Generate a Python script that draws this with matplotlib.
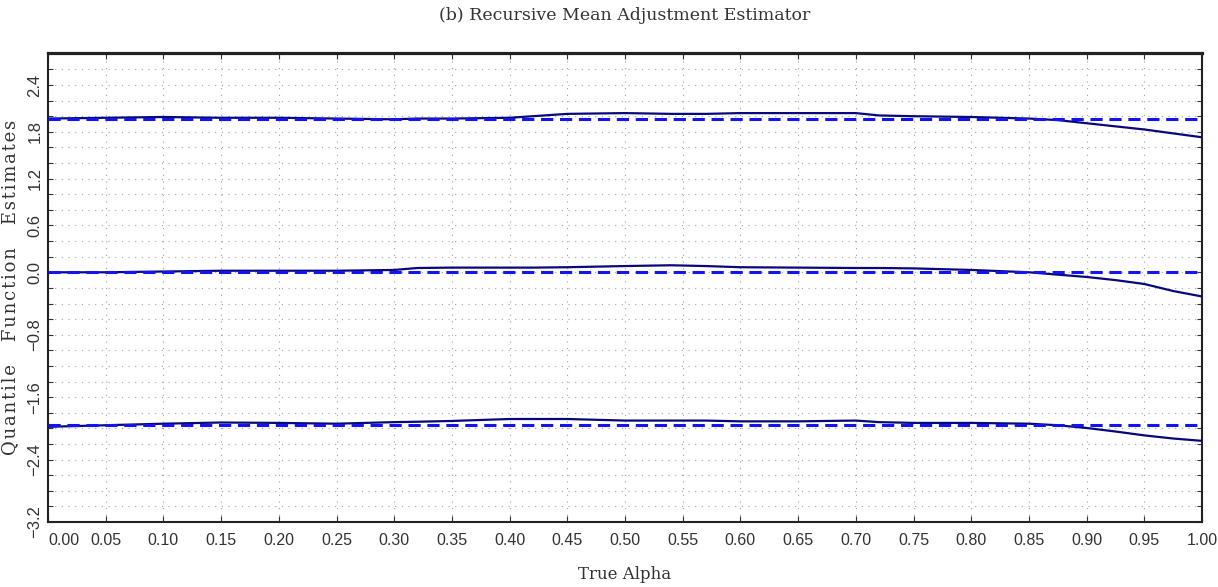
import numpy as np
import matplotlib
matplotlib.use("Agg")
import matplotlib.pyplot as plt
from matplotlib.ticker import FixedLocator, FixedFormatter

alpha = [0.0, 0.05, 0.1, 0.15, 0.2, 0.25, 0.3, 0.32, 0.35, 0.4, 0.42, 0.45, 0.5,
         0.54, 0.57, 0.6, 0.65, 0.7, 0.72, 0.75, 0.8, 0.85, 0.875, 0.9, 0.925,
         0.95, 0.975, 1.0]
upper_est = [1.97, 1.98, 1.99, 1.98, 1.98, 1.97, 1.96, 1.97, 1.97, 1.98, 2.0,
             2.03, 2.04, 2.03, 2.03, 2.04, 2.04, 2.04, 2.01, 2.0, 1.99, 1.97,
             1.95, 1.91, 1.87, 1.83, 1.78, 1.73]
median_est = [0.0, 0.0, 0.01, 0.02, 0.02, 0.02, 0.03, 0.055, 0.06, 0.06, 0.06,
              0.065, 0.08, 0.09, 0.08, 0.065, 0.06, 0.055, 0.055, 0.05, 0.03,
              0.0, -0.03, -0.06, -0.1, -0.15, -0.24, -0.31]
lower_est = [-1.98, -1.96, -1.94, -1.925, -1.93, -1.94, -1.92, -1.915, -1.905,
             -1.88, -1.88, -1.88, -1.9, -1.9, -1.9, -1.91, -1.91, -1.9, -1.92,
             -1.93, -1.93, -1.94, -1.96, -1.995, -2.04, -2.09, -2.13, -2.16]
true_q = [1.96, 0.0, -1.96]

ytick_vals = [2.4, 1.8, 1.2, 0.6, 0.0, -0.8, -1.6, -2.4, -3.2]
ytick_text = ["2.4", "1.8", "1.2", "0.6", "0.0", "\u22120.8", "\u22121.6", "\u22122.4", "\u22123.2"]
xtick_vals = [round(0.05 * i, 2) for i in range(21)]

fig = plt.figure(figsize=(12.18, 5.87), dpi=100)
ax = fig.add_axes([0.0394, 0.1107, 0.9475, 0.799])

navy = "#08087a"
blue = "#1414f0"

for est in (upper_est, median_est, lower_est):
    ax.plot(alpha, est, color=navy, lw=1.6, zorder=3)
for q in true_q:
    ax.plot([alpha[0], alpha[-1]], [q, q], color=blue, lw=2.2,
            dashes=(4, 2.2), zorder=4)

ax.set_xlim(0, 1)
ax.set_ylim(-3.2, 2.81)

# ticks: every 0.2 on y, labels only at a few
yminor = [round(-3.2 + 0.2 * i, 1) for i in range(30)]
ax.yaxis.set_major_locator(FixedLocator(yminor))
ylabels = []
for v in yminor:
    lab = ""
    for tv, tt in zip(ytick_vals, ytick_text):
        if abs(tv - v) < 1e-6:
            lab = tt
    ylabels.append(lab)
ax.yaxis.set_major_formatter(FixedFormatter(ylabels))
ax.set_xticks(xtick_vals)
ax.set_xticklabels(["%.2f" % v for v in xtick_vals])

for lab in ax.get_xticklabels():
    lab.set_fontfamily("Liberation Sans")
    lab.set_fontsize(11.5)
    lab.set_color("#2e2e2e")
ax.get_xticklabels()[0].set_ha("left")
for lab in ax.get_yticklabels():
    lab.set_fontfamily("Liberation Sans")
    lab.set_fontsize(12)
    lab.set_color("#2e2e2e")
    lab.set_rotation(90)
    lab.set_va("center")

ax.tick_params(axis="x", direction="in", length=4, width=0.8, top=True,
               pad=8, colors="#333333")
ax.tick_params(axis="y", direction="in", length=3.5, width=0.8, right=True,
               pad=4, colors="#333333")

ax.grid(True, color="#a0a0a0", lw=0.8, linestyle=(0, (1, 5)))

for side in ("left", "bottom", "right"):
    ax.spines[side].set_linewidth(1.5)
    ax.spines[side].set_color("#222222")
ax.spines["top"].set_linewidth(2.3)
ax.spines["top"].set_color("#222222")

ax.set_title("(b) Recursive Mean Adjustment Estimator", family="DejaVu Serif",
             fontsize=12.5, color="#333333", pad=24)
ax.set_xlabel("True Alpha", family="DejaVu Serif", fontsize=12,
              color="#333333", labelpad=13)
ylab = "\u200a".join("Quantile") + "    " + "\u200a".join("Function") + "    " + "\u200a".join("Estimates")
ax.set_ylabel(ylab, family="DejaVu Serif", fontsize=13, color="#333333",
              labelpad=6)

fig.savefig("out.png", dpi=100)
